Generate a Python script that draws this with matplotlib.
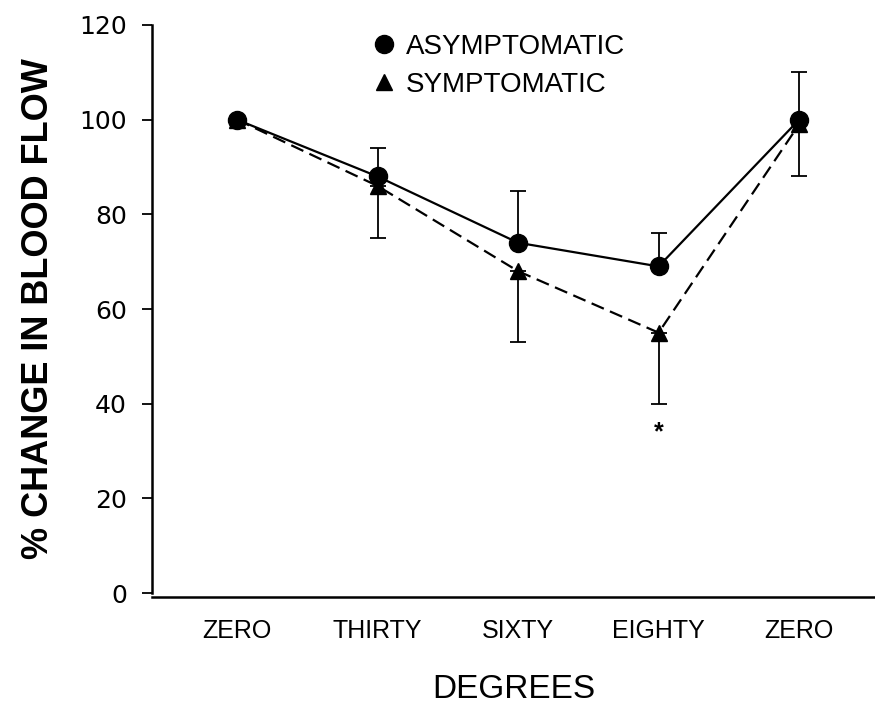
import matplotlib.pyplot as plt
from matplotlib.lines import Line2D

plt.rcParams['font.family'] = ['Liberation Sans', 'DejaVu Sans']

degrees = ["ZERO", "THIRTY", "SIXTY", "EIGHTY", "ZERO"]
asym_mean = [100, 88, 74, 69, 100]
asym_err = [0, 6, 11, 7, 10]
sym_mean = [100, 86, 68, 55, 99]
sym_err = [0, 11, 15, 15, 11]
yticks = [0, 20, 40, 60, 80, 100, 120]

x = list(range(len(degrees)))

fig = plt.figure(figsize=(8.75, 7.06), dpi=100)
ax = fig.add_axes([0.1737, 0.160, 0.8263, 0.8046])

# symptomatic: dashed, error bars going down
ax.errorbar(x, sym_mean, yerr=[sym_err, [0] * len(x)], color="black",
            lw=1.6, ls=(0, (6, 3)), marker="^", ms=12, capsize=6,
            elinewidth=1.3, capthick=1.3, zorder=2)
# asymptomatic: solid, error bars going up
ax.errorbar(x, asym_mean, yerr=[[0] * len(x), asym_err], color="black",
            lw=1.6, ls="-", marker="o", ms=13, capsize=6,
            elinewidth=1.3, capthick=1.3, zorder=3)

ax.text(3, 34, "*", ha="center", va="center", fontsize=18, fontweight="bold")

ax.set_xlim(-0.605, 4.54)
ax.set_ylim(0, 120)
ax.set_yticks(yticks)
ax.set_xticks(x)
ax.set_xticklabels(degrees)
ax.tick_params(axis="x", length=0, pad=16, labelsize=18)
ax.tick_params(axis="y", direction="out", length=7, width=1.3, labelsize=18, pad=11)
for lab in ax.get_yticklabels():
    lab.set_family("DejaVu Sans")

ax.spines["top"].set_visible(False)
ax.spines["right"].set_visible(False)
ax.spines["left"].set_linewidth(1.8)
ax.spines["bottom"].set_linewidth(1.8)
ax.spines["bottom"].set_position(("outward", 3))

ax.set_xlabel("DEGREES", fontsize=24, labelpad=22)
ax.set_ylabel("% CHANGE IN BLOOD FLOW", fontsize=26, fontweight="bold", labelpad=17)

handles = [Line2D([], [], color="black", marker="o", ls="none", ms=13),
           Line2D([], [], color="black", marker="^", ls="none", ms=12)]
ax.legend(handles, ["ASYMPTOMATIC", "SYMPTOMATIC"], frameon=False, fontsize=20,
          loc="upper left", bbox_to_anchor=(0.267, 1.028), handletextpad=0.3,
          labelspacing=0.42, handlelength=1.0)

fig.savefig("out.png", dpi=100)
